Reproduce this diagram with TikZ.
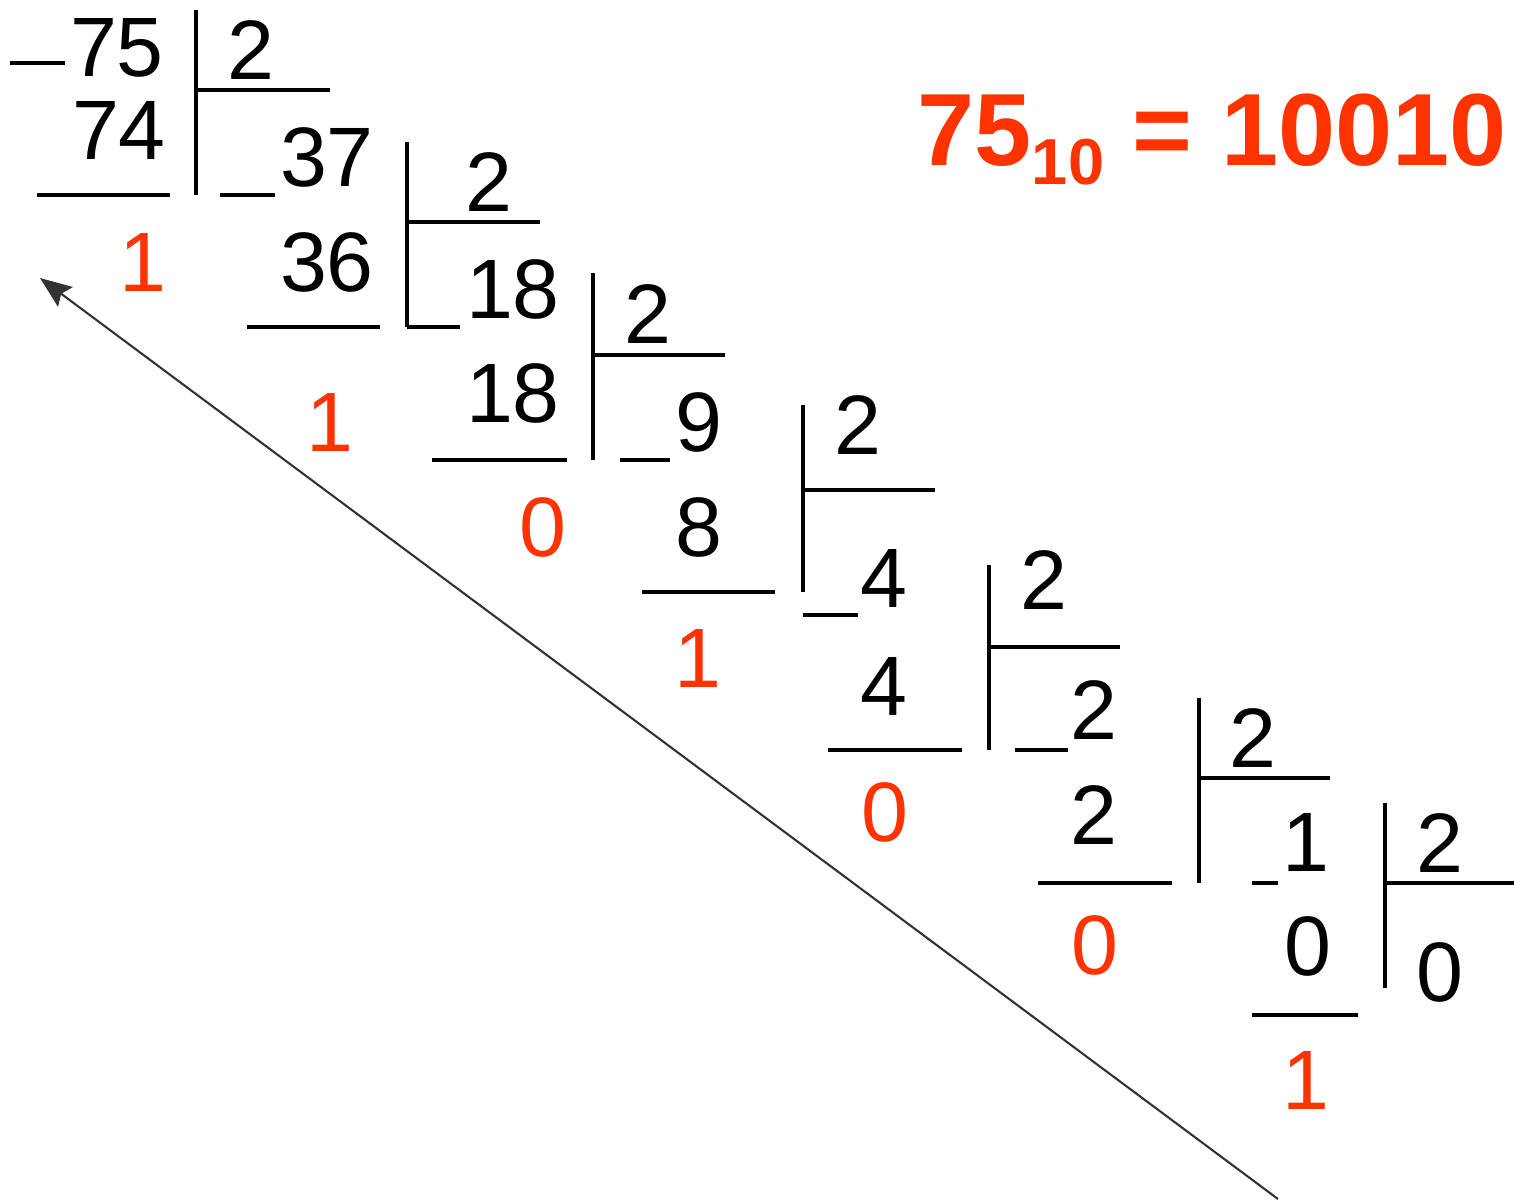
\documentclass[tikz,border=0pt]{standalone}
\usepackage{fontspec}
\setmainfont{Liberation Sans}
\usepackage{xcolor}
\usetikzlibrary{arrows.meta}

\definecolor{remred}{HTML}{FF3300}

\begin{document}
\begin{tikzpicture}[x=0.1mm, y=-0.1mm, >=Stealth,
  digit/.style={inner sep=0pt, font=\fontsize{24}{28}\selectfont},
  rem/.style={digit, text=remred},
  rule/.style={line width=0.9pt}]

\useasboundingbox (0,0) rectangle (1514,1199);

%-- dividends and products
\node[digit] (num0) at (117, 48)  {75};
\node[digit] (sub0) at (119,130)  {74};
\node[digit] (num1) at (327,157)  {37};
\node[digit] (sub1) at (327,262)  {36};
\node[digit] (num2) at (513,289)  {18};
\node[digit] (sub2) at (513,393)  {18};
\node[digit] (num3) at (699,422)  {9};
\node[digit] (sub3) at (699,527)  {8};
\node[digit] (num4) at (884,578)  {4};
\node[digit] (sub4) at (884,686)  {4};
\node[digit] (num5) at (1094,710) {2};
\node[digit] (sub5) at (1094,815) {2};
\node[digit] (num6) at (1306,842) {1};
\node[digit] (sub6) at (1308,946) {0};
\node[digit] (num7) at (1440,972) {0};

%-- divisors
\node[digit] (div0) at (251, 50)  {2};
\node[digit] (div1) at (489,182)  {2};
\node[digit] (div2) at (648,314)  {2};
\node[digit] (div3) at (858,425)  {2};
\node[digit] (div4) at (1044,580) {2};
\node[digit] (div5) at (1253,738) {2};
\node[digit] (div6) at (1440,843) {2};

%-- remainders
\node[rem] (rem0) at (143,262)  {1};
\node[rem] (rem1) at (330,422)  {1};
\node[rem] (rem2) at (543,527)  {0};
\node[rem] (rem3) at (698,658)  {1};
\node[rem] (rem4) at (885,812)  {0};
\node[rem] (rem5) at (1095,945) {0};
\node[rem] (rem6) at (1306,1080){1};

%-- division brackets
\foreach \x/\yt/\yb/\yh/\xe in {196/10/195/90/330, 407/142/327/222/540,
    593/273/460/355/725, 803/405/592/490/935, 989/565/750/647/1120,
    1199/698/883/778/1330, 1385/803/988/883/1514}{
  \draw[rule] (\x,\yt) -- (\x,\yb);
  \draw[rule] (\x,\yh) -- (\xe,\yh);
}

%-- minus signs
\foreach \xa/\xb/\y in {10/65/63, 220/275/195, 407/460/327, 620/670/460,
    803/858/615, 1015/1068/750, 1252/1278/883}
  \draw[rule] (\xa,\y) -- (\xb,\y);

%-- underlines
\foreach \xa/\xb/\y in {37/170/195, 247/380/327, 432/567/460, 642/775/592,
    828/962/750, 1038/1172/883, 1252/1358/1015}
  \draw[rule] (\xa,\y) -- (\xb,\y);

%-- read-back arrow
\coordinate (tail) at (1278,1199);
\coordinate (head) at (40,278);
\draw[black!80, line width=0.6pt, -{Stealth[length=9pt, width=7pt, inset=1.5pt]}] (tail) -- (head);

%-- result
\node[inner sep=0pt, anchor=base west, text=remred,
      font=\fontsize{29.2}{35}\selectfont\bfseries] (result) at (917,165)
  {75\raisebox{-5.5pt}{\fontsize{18.5}{22}\selectfont 10} = 10010};

\end{tikzpicture}
\end{document}
